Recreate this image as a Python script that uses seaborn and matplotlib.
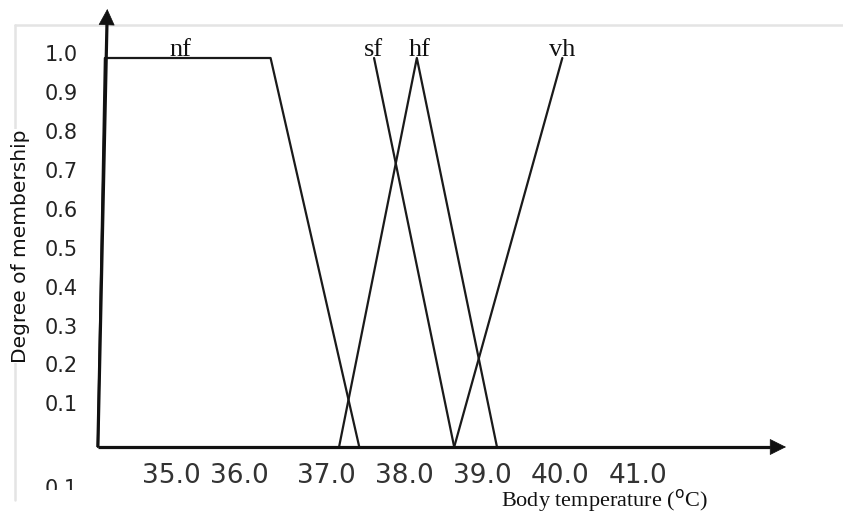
import numpy as np
import pandas as pd
import matplotlib
matplotlib.use("Agg")
import matplotlib.pyplot as plt
from matplotlib.lines import Line2D
from matplotlib.patches import Rectangle
import seaborn as sns

# ---------------- data ----------------
set_names = ["nf", "sf", "hf", "vh"]
nf_temp = [34.06, 34.15, 36.28, 37.42]
nf_memb = [0.0, 1.0, 1.0, 0.0]
sf_temp = [37.61, 38.64]
sf_memb = [1.0, 0.0]
hf_temp = [37.16, 38.16, 39.19]
hf_memb = [0.0, 1.0, 0.0]
vh_temp = [38.64, 40.03]
vh_memb = [0.0, 1.0]

y_ticks = [0.1, 0.2, 0.3, 0.4, 0.5, 0.6, 0.7, 0.8, 0.9, 1.0]
y_tick_labels = ["0.1", "0.2", "0.3", "0.4", "0.5", "0.6", "0.7", "0.8", "0.9", "1.0"]
x_tick_pos = [35.0, 35.88, 37.0, 38.0, 39.0, 40.0, 41.0]
x_tick_labels = ["35.0", "36.0", "37.0", "38.0", "39.0", "40.0", "41.0"]

x_label = "Body temperature (" + r"$^{\mathrm{o}}$" + "C)"
y_label = "Degree of membership"

# ---------------- figure ----------------
sns.set_theme(style="white")
plt.rcParams["font.family"] = ["DejaVu Sans"]

W, H = 843, 520
fig = plt.figure(figsize=(W / 100, H / 100), dpi=100)
ax = fig.add_axes([0, 0, 1, 1])

# pixel <-> data mapping (hand-drawn diagram layout)
def T(px):
    return 35 + (px - 171) / 77.8

def M(py):
    return (447 - py) / 389

ax.set_xlim(T(0), T(W))
ax.set_ylim(M(H), M(0))
ax.axis("off")

frames = []
for name, t, m in [("nf", nf_temp, nf_memb), ("sf", sf_temp, sf_memb),
                   ("hf", hf_temp, hf_memb), ("vh", vh_temp, vh_memb)]:
    frames.append(pd.DataFrame({"set": name, "temp": t, "membership": m,
                                "order": range(len(t))}))
df = pd.concat(frames, ignore_index=True)

sns.lineplot(data=df, x="temp", y="membership", units="set", estimator=None,
             sort=False, color="#1a1a1a", lw=1.6, ax=ax, legend=False)

# axes with arrows
ink = "#111111"
x0 = nf_temp[0]
ax.plot([x0, T(107)], [0, M(22)], color=ink, lw=2.3, solid_capstyle="butt")
ax.annotate("", xy=(T(107.3), M(9)), xytext=(T(106.6), M(26)),
            arrowprops=dict(arrowstyle="-|>,head_length=0.9,head_width=0.45",
                            color=ink, lw=0.5, shrinkA=0, shrinkB=0))
ax.plot([x0, T(770)], [0, 0], color=ink, lw=2.3, solid_capstyle="butt")
ax.annotate("", xy=(T(786), 0), xytext=(T(765), 0),
            arrowprops=dict(arrowstyle="-|>,head_length=0.9,head_width=0.45",
                            color=ink, lw=0.5, shrinkA=0, shrinkB=0))

# set labels
serif = ["Liberation Serif", "DejaVu Serif"]
label_x = {"nf": T(180), "sf": sf_temp[0] - 0.01, "hf": hf_temp[1] + 0.04, "vh": vh_temp[1]}
for name in set_names:
    ax.text(label_x[name], M(56.5), name, ha="center", va="baseline",
            fontsize=19, family=serif, color="#111")

# y tick labels
for v, lab in zip(y_ticks, y_tick_labels):
    ax.text(T(78), v + 0.007, lab, ha="right", va="center", fontsize=15,
            color="#222")

# x tick labels
for v, lab in zip(x_tick_pos, x_tick_labels):
    ax.text(v, M(463), lab, ha="center", va="top", fontsize=19, color="#333")

# cut-off stray label at bottom-left (only its upper part is visible)
ax.text(T(78), M(479), "0.1", ha="right", va="top", fontsize=15, color="#222",
        zorder=2)
fig.add_artist(Rectangle((25 / W, 0), 90 / W, (H - 490) / H,
                         transform=fig.transFigure, facecolor="white",
                         edgecolor="none", zorder=10))

# axis titles
ax.text(T(604), M(500), x_label, ha="center", va="center", fontsize=16,
        family=serif, color="#111")
ax.text(T(21), M(246), y_label, ha="center", va="center", rotation=90,
        fontsize=14.5, color="#111", zorder=5,
        bbox=dict(facecolor="white", edgecolor="none", pad=0))

# light frame
fig.add_artist(Line2D([15 / W, 1], [1 - 25 / H, 1 - 25 / H], transform=fig.transFigure,
                      color="#e4e4e4", lw=1.8, zorder=0))
fig.add_artist(Line2D([15 / W, 15 / W], [1 - 25 / H, 1 - 500 / H], transform=fig.transFigure,
                      color="#e4e4e4", lw=1.8, zorder=0))

fig.savefig("out.png", dpi=100, facecolor="white")
